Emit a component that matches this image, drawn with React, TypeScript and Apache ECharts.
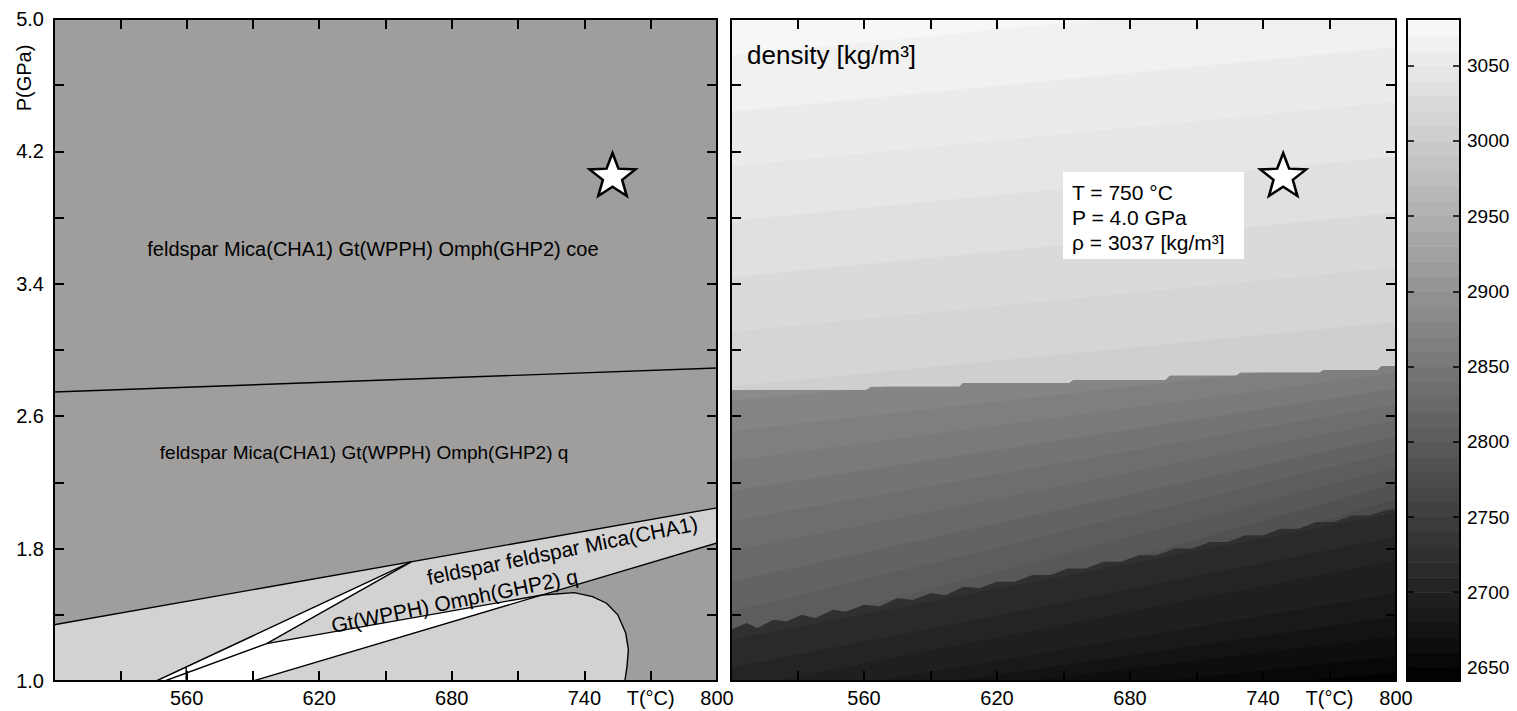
import React, { useEffect, useRef } from 'react';
import * as echarts from 'echarts';

// ---------------- axes ----------------
const T_MIN = 500;
const T_MAX = 800;
const P_MIN = 1.0;
const P_MAX = 5.0;
const xTickValues = [530, 560, 590, 620, 650, 680, 710, 740, 770];
const xLabelValues = [560, 620, 680, 740, 770, 800];
const xLabelTexts = ['560', '620', '680', '740', 'T(°C)', '800'];
const yTickValues = [1.4, 1.8, 2.2, 2.6, 3.0, 3.4, 3.8, 4.2, 4.6];
const yLabelValues = [1.0, 1.8, 2.6, 3.4, 4.2, 5.0];
const yLabelTexts = ['1.0', '1.8', '2.6', '3.4', '4.2', '5.0'];

// ---------------- left panel: phase fields (T °C, P GPa) ----------------
const lightField = [
  [500, 1.0], [500, 1.34], [800, 2.046], [800, 1.834], [720.9, 1.52],
  [735.4, 1.534], [743.7, 1.51], [750, 1.47], [755.1, 1.4], [758.7, 1.29],
  [759.9, 1.19], [759.3, 1.09], [758.3, 1.0],
];
const whiteField = [[546.3, 1.0], [661.6, 1.72], [596.2, 1.226], [720.9, 1.52], [590.0, 1.0]];

const quartzCoesiteLine = [[500, 2.746], [800, 2.891]];
const feldsparLine = [[500, 1.34], [800, 2.046]];
const line1 = [[546.3, 1.0], [661.6, 1.72]];
const line2 = [[550.1, 1.0], [596.2, 1.226], [661.6, 1.72]];
const branchLine = [[596.2, 1.226], [720.9, 1.52]];
const line3 = [[590.0, 1.0], [800, 1.834]];
const curveLine = [
  [720.9, 1.52], [735.4, 1.534], [743.7, 1.51], [750, 1.47], [755.1, 1.4],
  [758.7, 1.29], [759.9, 1.19], [759.3, 1.09], [758.3, 1.0],
];
const shortLine = [[559.8, 1.0], [559.8, 1.084]];

const fieldLabels = [
  { text: 'feldspar Mica(CHA1) Gt(WPPH) Omph(GHP2) coe', at: [644.3, 3.61] },
  { text: 'feldspar Mica(CHA1) Gt(WPPH) Omph(GHP2) q', at: [640.3, 2.38] },
];
const bandLabels = [
  { text: 'feldspar feldspar Mica(CHA1)', at: [730.0, 1.79] },
  { text: 'Gt(WPPH) Omph(GHP2) q', at: [681.2, 1.485] },
];

// ---------------- right panel: density contours (kg/m3) ----------------
const coeTopLevel = 3080;
const coeContours = [
  { level: 3070, pts: [[500, 4.78], [800, 5.17]] },
  { level: 3060, pts: [[500, 4.44], [800, 4.83]] },
  { level: 3050, pts: [[500, 4.11], [800, 4.5]] },
  { level: 3040, pts: [[500, 3.78], [800, 4.17]] },
  { level: 3030, pts: [[500, 3.44], [800, 3.83]] },
  { level: 3020, pts: [[500, 3.11], [800, 3.5]] },
  { level: 3010, pts: [[500, 2.78], [800, 3.17]] },
];
const qTopLevel = 2890;
const densityStepLine = [
  [500, 2.758], [561, 2.758], [563, 2.778], [603, 2.778], [604.7, 2.8], [652.7, 2.8],
  [654.5, 2.819], [696, 2.819], [698, 2.845], [728, 2.845], [729.7, 2.863], [765.5, 2.863],
  [767.3, 2.879], [791.8, 2.879], [793.6, 2.903], [800, 2.903],
];
const qContours = [
  { level: 2880, pts: [[500, 2.695], [800, 3.05]] },
  { level: 2870, pts: [[500, 2.51], [800, 2.955]] },
  { level: 2860, pts: [[500, 2.33], [800, 2.862]] },
  { level: 2850, pts: [[500, 2.15], [800, 2.767]] },
  { level: 2840, pts: [[500, 1.967], [800, 2.671]] },
  { level: 2830, pts: [[500, 1.785], [800, 2.576]] },
  { level: 2820, pts: [[500, 1.6], [800, 2.48]] },
  { level: 2810, pts: [[500, 1.42], [800, 2.386]] },
  { level: 2800, pts: [[500, 1.24], [800, 2.29]] },
  { level: 2790, pts: [[500, 1.06], [800, 2.195]] },
  { level: 2780, pts: [[500, 0.876], [800, 2.1]] },
];
const lowTopLevel = 2730;
const densityDropLine = [
  [500, 1.31], [507, 1.35], [512, 1.32], [519, 1.37], [525, 1.36], [532, 1.4], [538, 1.38],
  [546, 1.43], [552, 1.42], [560, 1.46], [567, 1.45], [575, 1.5], [582, 1.49], [590, 1.53],
  [597, 1.52], [605, 1.57], [612, 1.56], [620, 1.6], [628, 1.6], [636, 1.64], [644, 1.64],
  [652, 1.68], [660, 1.68], [668, 1.72], [676, 1.72], [684, 1.76], [692, 1.76], [700, 1.8],
  [708, 1.8], [716, 1.84], [724, 1.84], [732, 1.88], [740, 1.88], [748, 1.92], [756, 1.92],
  [764, 1.96], [772, 1.96], [780, 2.0], [788, 2.0], [795, 2.03], [800, 2.04],
];
const lowContours = [
  { level: 2720, pts: [[500, 1.25], [800, 2.015]] },
  { level: 2710, pts: [[500, 1.08], [800, 1.87]] },
  { level: 2700, pts: [[500, 0.95], [800, 1.73]] },
  { level: 2690, pts: [[500, 0.85], [800, 1.53]] },
  { level: 2680, pts: [[500, 0.8], [800, 1.39]] },
  { level: 2670, pts: [[500, 0.78], [800, 1.27]] },
  { level: 2660, pts: [[500, 0.72], [800, 1.15]] },
  { level: 2650, pts: [[500, 0.7], [800, 1.05]] },
];

// point of interest
const starPoint = [750, 4.0];
const infoLines = ['T = 750 °C', 'P = 4.0 GPa', 'ρ = 3037 [kg/m³]'];

// ---------------- colour bar ----------------
const CB_MIN = 2641;
const CB_MAX = 3081;
const cbTickValues = [2650, 2700, 2750, 2800, 2850, 2900, 2950, 3000, 3050];
const cbLevels = [
  2640, 2650, 2660, 2670, 2680, 2690, 2700, 2710, 2720, 2730, 2740, 2750, 2760, 2770, 2780,
  2790, 2800, 2810, 2820, 2830, 2840, 2850, 2860, 2870, 2880, 2890, 2900, 2910, 2920, 2930,
  2940, 2950, 2960, 2970, 2980, 2990, 3000, 3010, 3020, 3030, 3040, 3050, 3060, 3070, 3080,
];

// ---------------- helpers ----------------
const FONT = 'Liberation Sans';
const DARK = '#9f9e9d';
const LIGHT = '#d3d2d2';

function gray(v: number) {
  const t = Math.max(0, Math.min(1, (v - CB_MIN) / (CB_MAX - CB_MIN)));
  const g = Math.round(t * 250);
  return `rgb(${g},${g},${g})`;
}

function interp(pts: number[][], t: number) {
  if (t <= pts[0][0]) return pts[0][1];
  for (let i = 1; i < pts.length; i++) {
    const [t0, p0] = pts[i - 1];
    const [t1, p1] = pts[i];
    if (t <= t1) return t1 === t0 ? p1 : p0 + ((t - t0) / (t1 - t0)) * (p1 - p0);
  }
  return pts[pts.length - 1][1];
}

function bandPolygon(line: number[][] | null, cap: number[][] | null) {
  if (!line) return [[T_MIN, P_MAX], [T_MAX, P_MAX], [T_MAX, P_MIN], [T_MIN, P_MIN]];
  const set = new Set<number>();
  for (let t = T_MIN; t <= T_MAX; t += 2) set.add(t);
  line.forEach((p) => set.add(p[0]));
  if (cap) cap.forEach((p) => { set.add(p[0]); set.add(p[0] - 0.01); set.add(p[0] + 0.01); });
  const ts = [...set].filter((t) => t >= T_MIN && t <= T_MAX).sort((a, b) => a - b);
  const top = ts.map((t) => {
    let p = interp(line, t);
    if (cap) p = Math.min(p, interp(cap, t));
    return [t, Math.max(P_MIN, Math.min(P_MAX, p))];
  });
  return [...top, [T_MAX, P_MIN], [T_MIN, P_MIN]];
}

const densityBands: { line: number[][] | null; cap: number[][] | null; color: string }[] = [
  { line: null, cap: null, color: gray(coeTopLevel - 5) },
  ...coeContours.map((c) => ({ line: c.pts, cap: null, color: gray(c.level - 5) })),
  { line: densityStepLine, cap: null, color: gray(qTopLevel - 5) },
  ...qContours.map((c) => ({ line: c.pts, cap: densityStepLine, color: gray(c.level - 5) })),
  { line: densityDropLine, cap: null, color: gray(lowTopLevel - 5) },
  ...lowContours.map((c) => ({ line: c.pts, cap: densityDropLine, color: gray(c.level - 5) })),
];

function labelFor(values: number[], texts: string[], v: number) {
  const i = values.findIndex((x) => Math.abs(x - v) < 1e-6);
  return i >= 0 ? texts[i] : '';
}

const tickStyle = { color: '#000', width: 2 };
const frameStyle = { color: '#000', width: 2 };
const TICK_FONT = 20;

function xAxisDef(grid: number, position: string, labels: boolean) {
  return {
    type: 'value', gridIndex: grid, position, min: T_MIN, max: T_MAX, z: 10,
    axisLine: { show: true, onZero: false, lineStyle: frameStyle },
    axisTick: { show: true, inside: true, length: 10, customValues: xTickValues, lineStyle: tickStyle },
    axisLabel: {
      show: labels, customValues: xLabelValues,
      formatter: (v: number) => labelFor(xLabelValues, xLabelTexts, v),
      color: '#000', fontFamily: FONT, fontSize: TICK_FONT, margin: 7,
    },
    splitLine: { show: false },
  };
}
function yAxisDef(grid: number, position: string, labels: boolean) {
  return {
    type: 'value', gridIndex: grid, position, min: P_MIN, max: P_MAX, z: 10,
    axisLine: { show: true, onZero: false, lineStyle: frameStyle },
    axisTick: { show: true, inside: true, length: 10, customValues: yTickValues, lineStyle: tickStyle },
    axisLabel: {
      show: labels, customValues: yLabelValues,
      formatter: (v: number) => labelFor(yLabelValues, yLabelTexts, v),
      color: '#000', fontFamily: FONT, fontSize: TICK_FONT, margin: 10,
    },
    splitLine: { show: false },
  };
}

const STAR = 'path://M0,-50 L12.34,-16.99 L47.55,-15.45 L19.97,6.49 L29.39,40.45 L0,21 L-29.39,40.45 L-19.97,6.49 L-47.55,-15.45 L-12.34,-16.99 Z';

function starSeries(xi: number, yi: number, dx: number) {
  return {
    type: 'scatter', xAxisIndex: xi, yAxisIndex: yi, z: 20, silent: true,
    data: [starPoint], symbol: STAR, symbolSize: [46, 43], symbolOffset: [dx, -10],
    itemStyle: { color: '#fff', borderColor: '#000', borderWidth: 2.5, opacity: 1 },
  };
}

function polySeries(polys: { pts: number[][]; color: string }[]) {
  return {
    type: 'custom', xAxisIndex: 0, yAxisIndex: 0, clip: true, silent: true, z: 2,
    data: polys.map((p) => p.pts[0]),
    renderItem: (params: any, api: any) => {
      const p = polys[params.dataIndex];
      return { type: 'polygon', shape: { points: p.pts.map((q) => api.coord(q)) }, style: { fill: p.color, stroke: null } };
    },
  };
}

const boundaryLines = [quartzCoesiteLine, feldsparLine, line1, line2, branchLine, line3, curveLine, shortLine];

function buildOption() {
  const fieldFonts = [`20px "${FONT}"`, `19px "${FONT}"`];
  const bandFont = `21px "${FONT}"`;
  const angle = (11.5 * Math.PI) / 180;
  return {
    animation: false,
    textStyle: { fontFamily: FONT },
    grid: [
      { left: 54, top: 19, width: 663, height: 662, show: true, backgroundColor: DARK, borderWidth: 0 },
      { left: 731, top: 19, width: 665, height: 662, show: false },
      { left: 1407, top: 19, width: 53, height: 662, show: false },
    ],
    xAxis: [
      xAxisDef(0, 'bottom', true),
      xAxisDef(0, 'top', false),
      xAxisDef(1, 'bottom', true),
      xAxisDef(1, 'top', false),
      { type: 'value', gridIndex: 2, position: 'bottom', min: 0, max: 1, z: 10, axisLine: { show: true, onZero: false, lineStyle: frameStyle }, axisTick: { show: false }, axisLabel: { show: false }, splitLine: { show: false } },
      { type: 'value', gridIndex: 2, position: 'top', min: 0, max: 1, z: 10, axisLine: { show: true, onZero: false, lineStyle: frameStyle }, axisTick: { show: false }, axisLabel: { show: false }, splitLine: { show: false } },
    ],
    yAxis: [
      yAxisDef(0, 'left', true),
      yAxisDef(0, 'right', false),
      yAxisDef(1, 'left', false),
      yAxisDef(1, 'right', false),
      {
        type: 'value', gridIndex: 2, position: 'left', min: CB_MIN, max: CB_MAX, z: 10,
        axisLine: { show: true, onZero: false, lineStyle: frameStyle },
        axisTick: { show: true, inside: true, length: 7, customValues: cbTickValues, lineStyle: { color: '#000', width: 1.5 } },
        axisLabel: { show: false }, splitLine: { show: false },
      },
      {
        type: 'value', gridIndex: 2, position: 'right', min: CB_MIN, max: CB_MAX, z: 10,
        axisLine: { show: true, onZero: false, lineStyle: frameStyle },
        axisTick: { show: true, inside: true, length: 7, customValues: cbTickValues, lineStyle: { color: '#000', width: 1.5 } },
        axisLabel: {
          show: true, customValues: cbTickValues, formatter: (v: number) => String(Math.round(v)),
          color: '#000', fontFamily: FONT, fontSize: 19, margin: 7,
        },
        splitLine: { show: false },
      },
    ],
    series: [
      polySeries([{ pts: lightField, color: LIGHT }, { pts: whiteField, color: '#ffffff' }]),
      {
        type: 'custom', xAxisIndex: 0, yAxisIndex: 0, clip: true, silent: true, z: 3,
        data: boundaryLines.map((l) => l[0]),
        renderItem: (params: any, api: any) => ({
          type: 'polyline',
          shape: { points: boundaryLines[params.dataIndex].map((q) => api.coord(q)) },
          style: { stroke: '#000', lineWidth: 1.4, fill: null },
        }),
      },
      {
        type: 'custom', xAxisIndex: 0, yAxisIndex: 0, silent: true, z: 4,
        data: [...fieldLabels, ...bandLabels].map((l) => l.at),
        renderItem: (params: any, api: any) => {
          const all = [...fieldLabels, ...bandLabels];
          const i = params.dataIndex;
          const l = all[i];
          const isBand = i >= fieldLabels.length;
          const c = api.coord(l.at);
          return {
            type: 'text', x: c[0], y: c[1], rotation: isBand ? angle : 0,
            style: {
              text: l.text, fill: '#000', font: isBand ? bandFont : fieldFonts[i],
              align: 'center', verticalAlign: 'middle', textAlign: 'center', textVerticalAlign: 'middle',
            },
          };
        },
      },
      starSeries(0, 0, 6),
      {
        type: 'custom', xAxisIndex: 2, yAxisIndex: 2, clip: true, silent: true, z: 2,
        data: densityBands.map(() => [T_MIN, P_MIN]),
        renderItem: (params: any, api: any) => {
          const b = densityBands[params.dataIndex];
          const pts = bandPolygon(b.line, b.cap).map((q) => api.coord(q));
          return { type: 'polygon', shape: { points: pts }, style: { fill: b.color, stroke: null } };
        },
      },
      starSeries(2, 2, -2),
      {
        type: 'custom', xAxisIndex: 4, yAxisIndex: 4, silent: true, z: 2,
        data: cbLevels.map((v) => [0, v]),
        renderItem: (params: any, api: any) => {
          const v = cbLevels[params.dataIndex];
          const lo = Math.max(v, CB_MIN);
          const hi = Math.min(v + 10, CB_MAX);
          if (hi <= lo) return null;
          const a = api.coord([0, hi]);
          const b = api.coord([1, lo]);
          return { type: 'rect', shape: { x: a[0], y: a[1], width: b[0] - a[0], height: b[1] - a[1] + 0.6 }, style: { fill: gray(v + 5) } };
        },
      },
    ],
    graphic: [
      {
        type: 'text', x: 24, y: 78, rotation: Math.PI / 2, z: 100,
        style: { text: 'P(GPa)', font: `20px "${FONT}"`, fill: '#000', align: 'center', verticalAlign: 'middle', textAlign: 'center', textVerticalAlign: 'middle' },
      },
      {
        type: 'text', x: 747, y: 55, z: 100,
        style: { text: 'density [kg/m³]', font: `26px "${FONT}"`, fill: '#000', align: 'left', verticalAlign: 'middle', textAlign: 'left', textVerticalAlign: 'middle' },
      },
      { type: 'rect', z: 100, shape: { x: 1063, y: 172, width: 181, height: 87 }, style: { fill: '#fff' } },
      ...infoLines.map((t, i) => ({
        type: 'text', x: 1072, y: 192 + i * 25, z: 101,
        style: { text: t, font: `21px "${FONT}"`, fill: '#000', align: 'left', verticalAlign: 'middle', textAlign: 'left', textVerticalAlign: 'middle' },
      })),
    ],
  };
}

export default function App() {
  const ref = useRef<HTMLDivElement>(null);
  useEffect(() => {
    if (!ref.current) return;
    const chart = echarts.init(ref.current, null, { renderer: 'svg' });
    chart.setOption(buildOption() as any);
    return () => chart.dispose();
  }, []);
  return (
    <div
      ref={ref}
      style={{ position: 'absolute', left: 0, top: 0, width: 1517, height: 711, background: '#fff' }}
    />
  );
}
